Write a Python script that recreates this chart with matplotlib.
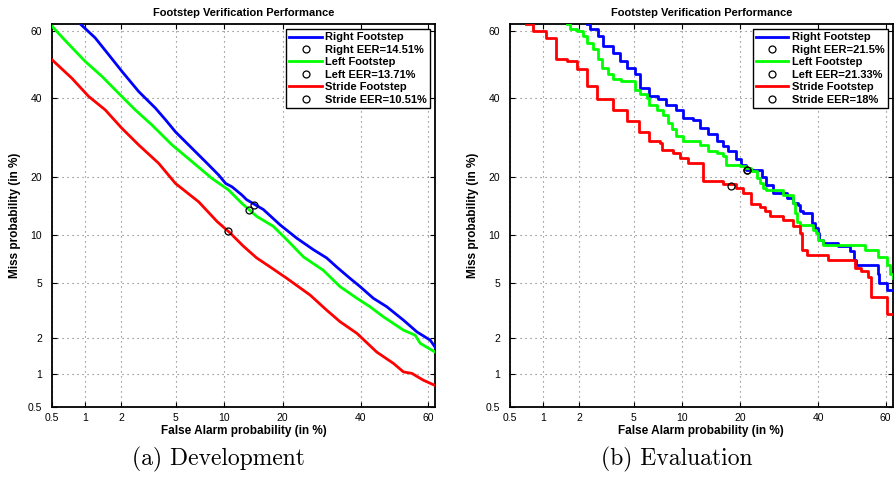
import math
import numpy as np
import matplotlib
matplotlib.use("Agg")
import matplotlib.pyplot as plt
from matplotlib.ticker import FixedLocator, FixedFormatter, NullLocator

# ---------------------------------
# Data (percent)
# ---------------------------------
tick_vals = [0.5, 1, 2, 5, 10, 20, 40, 60]
tick_labels = ["0.5", "1", "2", "5", "10", "20", "40", "60"]

# (a) Development
dev_right_fa = [0.91, 1.22, 1.58, 2.02, 2.72, 3.61, 4.24, 4.97, 6.08, 7.75, 9.32, 10.2, 11.1,
                12.6, 13.3, 16.2, 19.5, 23.1, 27.1, 30.5, 33.2, 36.9, 39.8, 43.7, 47.7, 52.7,
                56.7, 60.6, 62]
dev_right_miss = [62, 58.0, 53.0, 48.0, 42.0, 37.2, 34.0, 30.7, 27.3, 23.3, 20.3, 18.6, 17.9,
                  16.3, 15.5, 13.8, 11.4, 9.6, 8.2, 7.3, 6.4, 5.4, 4.75, 3.94, 3.43, 2.73,
                  2.22, 1.91, 1.68]
dev_left_fa = [0.5, 0.66, 1.0, 1.39, 1.90, 2.56, 3.41, 4.72, 6.39, 8.50, 10.6, 12.6, 15.0,
               18.1, 20.9, 24.7, 29.6, 34.1, 38.9, 42.7, 46.7, 52.7, 56.2, 57.7, 62]
dev_left_miss = [61.4, 57.3, 51.0, 46.5, 41.5, 36.7, 32.5, 27.3, 23.3, 19.6, 17.3, 14.8, 12.7,
                 11.2, 9.4, 7.4, 6.1, 4.75, 3.94, 3.43, 2.89, 2.29, 2.09, 1.80, 1.53]
dev_stride_fa = [0.5, 0.76, 1.07, 1.48, 2.02, 2.72, 3.81, 4.97, 7.05, 9.11, 10.8, 12.8, 15.0,
                 17.5, 20.9, 26.3, 30.5, 34.1, 38.9, 44.7, 49.7, 52.7, 55.2, 58.6, 62]
dev_stride_miss = [51.5, 46.0, 40.6, 36.7, 31.6, 27.3, 22.9, 18.6, 15.1, 11.9, 10.3, 8.6, 7.3,
                   6.4, 5.4, 4.15, 3.24, 2.66, 2.16, 1.53, 1.23, 1.04, 1.01, 0.88, 0.79]
dev_eer = [14.51, 13.71, 10.51]

# (b) Evaluation (staircase curves)
ev_right_fa = [2.28, 2.42, 2.79, 3.05, 3.6, 4.0, 4.5, 5.1, 5.5, 6.3, 7.2, 8.1, 9.3, 10.2,
               11.6, 12.6, 13.9, 15.4, 16.6, 17.5, 19.2, 20.2, 21.3, 24.8, 25.9, 27.6,
               31.1, 32.9, 34.2, 34.7, 35.6, 38.0, 38.9, 39.9, 40.3, 41.3, 45.9, 49.4,
               50.5, 51.3, 57.6, 58.1, 60.5, 62]
ev_right_miss = [62, 60.5, 58.6, 55.6, 53.6, 51.1, 49.1, 47.1, 43.1, 40.7, 39.7, 38.2, 36.8,
                 34.5, 34.0, 31.7, 30.0, 28.2, 27.0, 25.8, 23.8, 22.5, 21.4, 20.0, 18.3,
                 16.7, 15.8, 14.9, 14.6, 13.5, 13.2, 11.7, 10.9, 10.3, 9.4, 8.96, 8.6, 8.0,
                 7.1, 6.6, 5.8, 5.05, 4.5, 4.5]
ev_left_fa = [1.58, 1.68, 1.90, 2.15, 2.28, 2.56, 2.79, 2.96, 3.3, 3.6, 4.1, 5.1, 5.5, 6.1,
              6.3, 7.1, 7.75, 8.3, 8.7, 9.3, 10.2, 12.6, 13.9, 15.4, 16.6, 17.2, 19.9, 21.3,
              22.4, 23.6, 24.4, 25.1, 25.9, 30.2, 32.9, 33.3, 33.8, 34.7, 38.4, 39.4, 39.9,
              41.3, 53.9, 57.6, 60.3, 61.2, 62]
ev_left_miss = [62, 60.5, 60, 58.6, 56.6, 54.6, 51.6, 49.1, 47.1, 45.6, 45.1, 42.6, 41.2,
                40.2, 38.2, 36.8, 35.3, 33.1, 31.3, 29.5, 28.2, 27.4, 25.8, 25.3, 24.5, 22.5,
                22.2, 21.9, 21.1, 19.7, 18.7, 17.7, 17.3, 16.4, 14.9, 13.2, 11.9, 11.4, 10.7,
                10.3, 9.4, 8.75, 8.2, 7.4, 6.6, 5.8, 5.4]
ev_stride_fa = [0.70, 0.82, 1.07, 1.30, 1.58, 1.90, 2.28, 2.72, 3.6, 4.5, 5.4, 6.3, 7.4, 7.6,
                8.9, 9.7, 10.9, 13.1, 16.6, 19.2, 20.6, 22.4, 24.4, 25.6, 26.8, 30.2, 32.9,
                34.7, 35.2, 36.6, 42.8, 50.8, 52.8, 54.8, 55.8, 60.4, 62]
ev_stride_miss = [62, 60, 58, 51.6, 51.1, 48.6, 43.6, 39.7, 36.8, 33.5, 30.6, 28.2, 27.8,
                  26.1, 25.3, 24.2, 23.0, 19.0, 18.5, 17.7, 16.7, 14.8, 14.3, 13.6, 12.7,
                  12.2, 11.2, 10.3, 8.2, 7.6, 7.1, 6.3, 6.0, 5.5, 4.04, 3.03, 3.03]
ev_eer = [21.5, 21.33, 18]

names = ["Right", "Left", "Stride"]
colors = ["#0000ff", "#00ff00", "#ff0000"]

# ---------------------------------
# Normal deviate (probit) scale
# ---------------------------------
_erf = np.vectorize(math.erf, otypes=[float])


def norm_cdf(z):
    return 0.5 * (1.0 + _erf(np.asarray(z, dtype=float) / math.sqrt(2.0)))


def probit(p):
    p = np.clip(np.asarray(p, dtype=float) / 100.0, 1e-10, 1 - 1e-10)
    lo = np.full(p.shape, -8.0)
    hi = np.full(p.shape, 8.0)
    for _ in range(55):
        mid = 0.5 * (lo + hi)
        below = norm_cdf(mid) < p
        lo = np.where(below, mid, lo)
        hi = np.where(below, hi, mid)
    return 0.5 * (lo + hi)


def inv_probit(z):
    return 100.0 * norm_cdf(z)


plt.rcParams["font.family"] = ["Liberation Sans", "DejaVu Sans"]

fig = plt.figure(figsize=(8.95, 4.78), dpi=100)
ax_a = fig.add_axes([0.0581, 0.1485, 0.428, 0.801])
ax_b = fig.add_axes([0.5698, 0.1485, 0.4276, 0.801])


def draw_det(ax, curves, eers, steps):
    for (fa, miss), name, col, eer in zip(curves, names, colors, eers):
        ax.plot(fa, miss, color=col, lw=2, drawstyle="steps-post" if steps else "default",
                label=name + " Footstep", zorder=3)
        ax.plot([eer], [eer], "o", mfc="none", mec="black", mew=0.9, ms=5,
                label="%s EER=%g%%" % (name, eer), zorder=4)

    ax.set_xscale("function", functions=(probit, inv_probit))
    ax.set_yscale("function", functions=(probit, inv_probit))
    ax.set_xlim(0.5, 62)
    ax.set_ylim(0.5, 62)
    for axis in (ax.xaxis, ax.yaxis):
        axis.set_major_locator(FixedLocator(tick_vals))
        axis.set_major_formatter(FixedFormatter(tick_labels))
        axis.set_minor_locator(NullLocator())
    ax.tick_params(direction="in", length=3.5, width=0.8, top=True, right=True,
                   labelsize=7.5, colors="black")
    ax.tick_params(axis="y", pad=7)
    ax.tick_params(axis="x", pad=4)
    ax.grid(True, linestyle=(0, (1, 3.5)), color="0.45", lw=0.8)
    for s in ax.spines.values():
        s.set_linewidth(1.3)

    ax.set_title("Footstep Verification Performance", fontsize=8, fontweight="bold", pad=6)
    ax.set_xlabel("False Alarm probability (in %)", fontsize=8.5, fontweight="bold", labelpad=2)
    ax.set_ylabel("Miss probability (in %)", fontsize=8.5, fontweight="bold", labelpad=5)

    leg = ax.legend(loc="upper right", prop={"weight": "bold", "size": 8},
                    fancybox=False, framealpha=1, edgecolor="black", borderaxespad=0.45,
                    handlelength=2.9, handletextpad=0.3, labelspacing=0.22, borderpad=0.3)
    leg.get_frame().set_linewidth(1.0)


draw_det(ax_a, [(dev_right_fa, dev_right_miss), (dev_left_fa, dev_left_miss),
                (dev_stride_fa, dev_stride_miss)], dev_eer, steps=False)
draw_det(ax_b, [(ev_right_fa, ev_right_miss), (ev_left_fa, ev_left_miss),
                (ev_stride_fa, ev_stride_miss)], ev_eer, steps=True)

fig.text(218 / 895, 0.038, "(a) Development", fontsize=17, family="cmr10",
         ha="center", va="center")
fig.text(677 / 895, 0.038, "(b) Evaluation", fontsize=17, family="cmr10",
         ha="center", va="center")

fig.savefig("out.png", dpi=100)
